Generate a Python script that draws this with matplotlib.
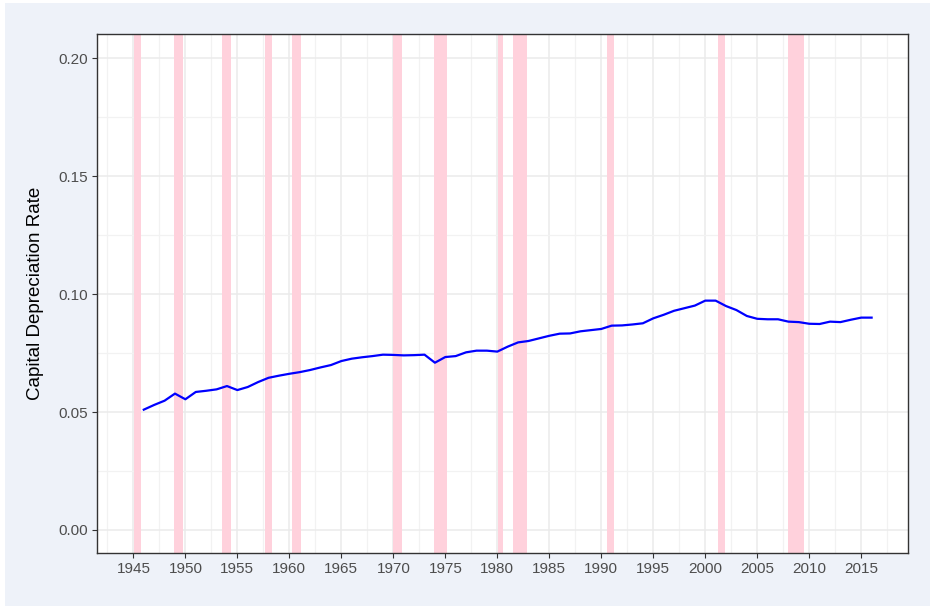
import matplotlib
matplotlib.use("Agg")
import matplotlib.pyplot as plt
from matplotlib.patches import Rectangle
from matplotlib.ticker import MultipleLocator

plt.rcParams['font.family'] = ['Liberation Sans', 'DejaVu Sans']

years = list(range(1946, 2017))
rates = [0.0510, 0.0530, 0.0548, 0.0578, 0.0554, 0.0585, 0.0590, 0.0596, 0.0610, 0.0593,
         0.0606, 0.0627, 0.0645, 0.0654, 0.0662, 0.0669, 0.0678, 0.0689, 0.0699, 0.0716,
         0.0726, 0.0732, 0.0737, 0.0743, 0.0742, 0.0740, 0.0741, 0.0743, 0.0709, 0.0733,
         0.0737, 0.0753, 0.0760, 0.0760, 0.0756, 0.0777, 0.0795, 0.0801, 0.0812, 0.0823,
         0.0832, 0.0833, 0.0842, 0.0847, 0.0852, 0.0866, 0.0867, 0.0871, 0.0876, 0.0897,
         0.0912, 0.0929, 0.0940, 0.0951, 0.0972, 0.0972, 0.0949, 0.0932, 0.0907, 0.0895,
         0.0893, 0.0893, 0.0883, 0.0881, 0.0874, 0.0873, 0.0883, 0.0881, 0.0891, 0.0900,
         0.0900]

rec_start = [1945.08, 1948.88, 1953.54, 1957.63, 1960.29, 1969.96, 1973.88, 1980.04, 1981.54, 1990.54, 2001.21, 2007.96]
rec_end   = [1945.75, 1949.79, 1954.38, 1958.29, 1961.13, 1970.88, 1975.21, 1980.54, 1982.88, 1991.21, 2001.88, 2009.46]

x_ticks = list(range(1945, 2020, 5))
y_ticks = [0.00, 0.05, 0.10, 0.15, 0.20]
y_label = "Capital Depreciation Rate"

fig = plt.figure(figsize=(9.30, 6.06), dpi=100)
fig.patch.set_facecolor('white')
fig.patches.append(Rectangle((5/930, 0), 1, 1 - 3/606, transform=fig.transFigure,
                             facecolor='#eef2f9', edgecolor='none', zorder=-10))

ax = fig.add_axes([97/930, 1 - 553/606, (908 - 97)/930, (553 - 34)/606])
ax.set_facecolor('white')

for s, e in zip(rec_start, rec_end):
    ax.axvspan(s, e, facecolor='#ffd1dc', edgecolor='none', zorder=1)

ax.plot(years, rates, color='#0000ff', lw=1.6, zorder=3)

ax.set_xlim(1941.5, 2019.5)
ax.set_ylim(-0.00975, 0.2102)
ax.set_xticks(x_ticks)
ax.set_yticks(y_ticks)
ax.set_yticklabels([f"{v:.2f}" for v in y_ticks])
ax.xaxis.set_minor_locator(MultipleLocator(2.5))
ax.yaxis.set_minor_locator(MultipleLocator(0.025))
ax.grid(which='major', color='#ebebeb', lw=1.1, zorder=0)
ax.grid(which='minor', color='#f2f2f2', lw=0.9, zorder=0)
ax.set_axisbelow(True)
ax.tick_params(which='major', length=3.5, width=0.8, color='#333333',
               labelsize=11, labelcolor='#4d4d4d', pad=3)
ax.tick_params(which='minor', length=0)
for sp in ax.spines.values():
    sp.set_color('#333333')
    sp.set_linewidth(1.0)

ax.set_ylabel(y_label, fontsize=13.5, color='black', labelpad=10)

fig.savefig('out.png', dpi=100, facecolor=fig.get_facecolor())
